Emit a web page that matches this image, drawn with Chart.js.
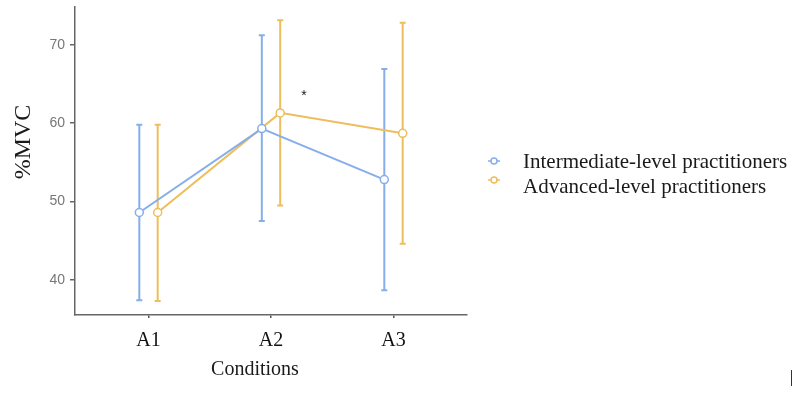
<!DOCTYPE html>
<html>
<head>
<meta charset="utf-8">
<script src="https://cdn.jsdelivr.net/npm/chart.js@4.4.1/dist/chart.umd.min.js"></script>
<style>
  html, body { margin: 0; padding: 0; background: #fff; }
  #wrap { width: 800px; height: 394px; position: relative; }
</style>
</head>
<body>
<div id="wrap"><canvas id="mvcChart"></canvas></div>
<script>
// Categories and series
const conditions = ['A1', 'A2', 'A3'];
const seriesNames = ['Intermediate-level practitioners', 'Advanced-level practitioners'];
const intermediateMean = [48.6, 59.3, 52.8];
const intermediateLow = [37.4, 47.5, 38.7];
const intermediateHigh = [59.8, 71.2, 66.9];
const advancedMean = [48.6, 61.3, 58.7];
const advancedLow = [37.3, 49.5, 44.6];
const advancedHigh = [59.8, 73.1, 72.8];
const yTicks = [40, 50, 60, 70];
// significance mark between A2 and A3
const sigMark = { x: 2.27, y: 63.4, text: '*' };

const blue = '#86aeea';
const orange = '#eebd5c';
const dodge = 0.075;
const serif = '"Liberation Serif", "Times New Roman", serif';

function toPoints(means, offset) {
    return means.map((v, i) => ({ x: i + 1 + offset, y: v }));
}

const series = [
    { mean: intermediateMean, low: intermediateLow, high: intermediateHigh, color: blue, offset: -dodge },
    { mean: advancedMean, low: advancedLow, high: advancedHigh, color: orange, offset: dodge }
];

// Error bars under the lines and points
const errorBars = {
    id: 'errorBars',
    beforeDatasetsDraw(chart) {
        const ctx = chart.ctx;
        const xs = chart.scales.x, ys = chart.scales.y;
        ctx.save();
        ctx.lineWidth = 2;
        series.forEach(s => {
            ctx.strokeStyle = s.color;
            s.mean.forEach((m, i) => {
                const px = xs.getPixelForValue(i + 1 + s.offset);
                const top = ys.getPixelForValue(s.high[i]);
                const bot = ys.getPixelForValue(s.low[i]);
                ctx.beginPath();
                ctx.moveTo(px, top); ctx.lineTo(px, bot);
                ctx.moveTo(px - 3, top); ctx.lineTo(px + 3, top);
                ctx.moveTo(px - 3, bot); ctx.lineTo(px + 3, bot);
                ctx.stroke();
            });
        });
        ctx.restore();
    }
};

// Axis titles, star, legend
const extras = {
    id: 'extras',
    afterDraw(chart) {
        const ctx = chart.ctx;
        const xs = chart.scales.x, ys = chart.scales.y;
        ctx.save();
        ctx.fillStyle = '#1a1a1a';
        ctx.textAlign = 'center';
        ctx.textBaseline = 'middle';

        // significance star
        ctx.font = '14px "Liberation Sans", Arial, sans-serif';
        ctx.fillText(sigMark.text, xs.getPixelForValue(sigMark.x), ys.getPixelForValue(sigMark.y));

        // x title
        ctx.font = '20px ' + serif;
        ctx.fillText('Conditions', 255, 370);

        // y title
        ctx.save();
        ctx.translate(24, 142);
        ctx.rotate(-Math.PI / 2);
        ctx.font = '24px ' + serif;
        ctx.fillText('%MVC', 0, 0);
        ctx.restore();

        // legend
        ctx.textAlign = 'left';
        ctx.font = '21px ' + serif;
        seriesNames.forEach((name, i) => {
            const y = 161 + i * 25;
            const c = series[i].color;
            ctx.strokeStyle = c;
            ctx.lineWidth = 1.5;
            ctx.beginPath();
            ctx.moveTo(488, y - i * 6); ctx.lineTo(500, y - i * 6);
            ctx.stroke();
            ctx.beginPath();
            ctx.arc(494, y - i * 6, 3, 0, Math.PI * 2);
            ctx.fillStyle = '#fff';
            ctx.fill();
            ctx.stroke();
            ctx.fillStyle = '#1a1a1a';
            ctx.fillText(name, 523, y + 1);
        });

        // stray mark at bottom right of the original image
        ctx.strokeStyle = '#333';
        ctx.lineWidth = 1;
        ctx.beginPath();
        ctx.moveTo(791.5, 370); ctx.lineTo(791.5, 386);
        ctx.stroke();
        ctx.restore();
    }
};

const ctx = document.getElementById('mvcChart').getContext('2d');
new Chart(ctx, {
    type: 'line',
    data: {
        datasets: series.map((s, i) => ({
            label: seriesNames[i],
            data: toPoints(s.mean, s.offset),
            borderColor: s.color,
            backgroundColor: '#fff',
            borderWidth: 2,
            pointRadius: 4,
            pointBorderWidth: 1.5,
            pointBackgroundColor: '#fff',
            pointBorderColor: s.color,
            tension: 0
        }))
    },
    options: {
        responsive: true,
        maintainAspectRatio: false,
        animation: false,
        layout: { padding: { top: 7, right: 333, left: 0, bottom: 0 } },
        plugins: {
            legend: { display: false },
            tooltip: { enabled: false }
        },
        scales: {
            x: {
                type: 'linear',
                min: 0.4,
                max: 3.6,
                afterBuildTicks(scale) {
                    scale.ticks = conditions.map((c, i) => ({ value: i + 1 }));
                },
                afterFit(scale) {
                    scale.height = 79;
                    scale.paddingLeft = 0;
                    scale.paddingRight = 0;
                },
                ticks: {
                    callback: v => conditions[Math.round(v) - 1],
                    font: { family: serif, size: 20 },
                    color: '#111',
                    padding: 11
                },
                grid: { drawOnChartArea: false, drawTicks: true, tickLength: 3, color: '#555', lineWidth: 1.5 },
                border: { display: true, color: '#666', width: 1.5 }
            },
            y: {
                min: 35.53,
                max: 74.8,
                afterBuildTicks(scale) {
                    scale.ticks = yTicks.map(v => ({ value: v }));
                },
                afterFit(scale) {
                    scale.width = 75;
                    scale.paddingTop = 0;
                    scale.paddingBottom = 0;
                },
                ticks: {
                    font: { family: '"Liberation Sans", Arial, sans-serif', size: 14 },
                    color: '#777',
                    padding: 5
                },
                grid: { drawOnChartArea: false, drawTicks: true, tickLength: 5, color: '#666', lineWidth: 1.5 },
                border: { display: true, color: '#666', width: 1.5 }
            }
        }
    },
    plugins: [errorBars, extras]
});
</script>
</body>
</html>
